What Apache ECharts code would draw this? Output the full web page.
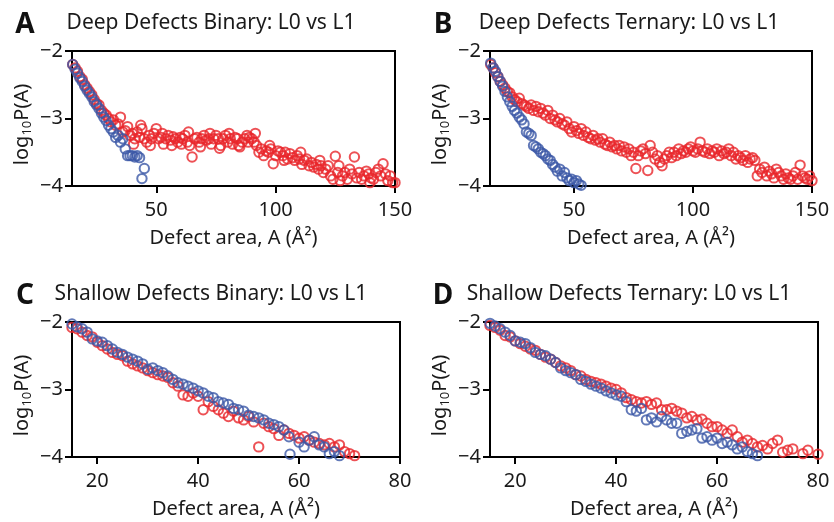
<!DOCTYPE html>
<html>
<head>
<meta charset="utf-8">
<script src="https://cdn.jsdelivr.net/npm/echarts@6.0.0/dist/echarts.min.js"></script>
<style>
  html, body { margin: 0; padding: 0; background: #fff; }
  #chart { width: 834px; height: 522px; }
</style>
</head>
<body>
<div id="chart"></div>
<script>
// panel A: deep defects, binary
var deepBinL0 = [[15,-2.2],[16,-2.27],[17,-2.33],[18,-2.4],[19,-2.45],[20,-2.52],[21,-2.58],[22,-2.63],[23,-2.68],
  [24,-2.75],[25,-2.8],[26,-2.85],[27,-2.92],[28,-2.98],[29,-3.03],[30,-3.1],[31,-3.15],[32,-3.2],[33,-3.28],
  [34,-3.25],[35,-3.35],[36,-3.3],[37,-3.45],[38,-3.55],[39,-3.55],[40,-3.55],[41,-3.57],[42,-3.55],[43,-3.58],
  [45,-3.74],[44,-3.89]];
var deepBinL1 = [[15,-2.2],[16,-2.25],[17,-2.3],[18,-2.38],[19,-2.42],[20,-2.5],[21,-2.55],[22,-2.6],[23,-2.65],
  [24,-2.72],[25,-2.78],[26,-2.8],[27,-2.88],[28,-2.92],[29,-2.95],[30,-3.0],[31,-3.05],[32,-3.02],[33,-3.1],
  [34,-3.08],[35,-2.98],[36,-3.2],[37,-3.18],[38,-3.12],[39,-3.25],[40,-3.22],[41,-3.3],[42,-3.2],[43,-3.28],
  [44,-3.15],[45,-3.3],[46,-3.35],[47,-3.25],[48,-3.3],[49,-3.22],[50,-3.15],[51,-3.3],[52,-3.28],[53,-3.38],
  [54,-3.3],[55,-3.25],[56,-3.32],[57,-3.27],[58,-3.3],[59,-3.35],[60,-3.28],[61,-3.3],[62,-3.25],[63,-3.35],
  [64,-3.4],[65,-3.57],[66,-3.3],[67,-3.28],[68,-3.35],[69,-3.3],[70,-3.25],[71,-3.32],[72,-3.3],[73,-3.38],
  [74,-3.3],[75,-3.25],[76,-3.3],[77,-3.4],[78,-3.3],[79,-3.25],[80,-3.35],[81,-3.3],[82,-3.38],[83,-3.28],
  [84,-3.3],[85,-3.42],[86,-3.35],[87,-3.3],[88,-3.25],[89,-3.28],[90,-3.3],[91,-3.35],[92,-3.4],[93,-3.5],
  [94,-3.45],[95,-3.55],[96,-3.48],[97,-3.5],[98,-3.45],[99,-3.67],[100,-3.55],[101,-3.48],[102,-3.5],[103,-3.55],
  [104,-3.5],[105,-3.6],[106,-3.52],[107,-3.58],[108,-3.62],[109,-3.55],[110,-3.6],[111,-3.68],[112,-3.62],
  [113,-3.6],[114,-3.7],[115,-3.65],[116,-3.72],[117,-3.68],[118,-3.75],[119,-3.7],[120,-3.8],[121,-3.75],
  [122,-3.7],[123,-3.85],[124,-3.9],[125,-3.56],[126,-3.8],[127,-3.92],[128,-3.85],[129,-3.8],[130,-3.9],
  [131,-3.75],[132,-3.82],[133,-3.57],[134,-3.88],[135,-3.8],[136,-3.9],[137,-3.85],[138,-3.78],[139,-3.82],
  [140,-3.88],[141,-3.9],[142,-3.8],[143,-3.75],[144,-3.85],[145,-3.67],[146,-3.82],[147,-3.92],[148,-3.85],
  [149,-3.95],[150,-3.95],
  [40.5,-3.38],[43.5,-3.1],[47.5,-3.4],[52.5,-3.22],[56.5,-3.4],[60.5,-3.38],[63.5,-3.2],[68.5,-3.42],
  [72.5,-3.22],[76.5,-3.44],[80.5,-3.22],[84.5,-3.4],[88.5,-3.35],[91.5,-3.22],[97.5,-3.4],[103.5,-3.62],
  [110.5,-3.5],[118.5,-3.62],[126.5,-3.7],[139.5,-3.95]];

// panel B: deep defects, ternary
var deepTerL0 = [[15,-2.18],[16,-2.25],[17,-2.3],[18,-2.38],[19,-2.45],[20,-2.52],[21,-2.6],[22,-2.68],[23,-2.75],
  [24,-2.82],[25,-2.88],[26,-2.92],[27,-2.98],[28,-3.02],[29,-3.08],[30,-3.2],[31,-3.22],[32,-3.25],[33,-3.4],
  [34,-3.42],[35,-3.45],[36,-3.5],[37,-3.52],[38,-3.55],[39,-3.6],[40,-3.62],[41,-3.68],[42,-3.72],[43,-3.78],
  [44,-3.75],[45,-3.85],[46,-3.8],[47,-3.88],[48,-3.92],[49,-3.9],[50,-3.95],[51,-3.92],[52,-3.97],[53,-3.99]];
var deepTerL1 = [[15,-2.2],[16,-2.25],[17,-2.32],[18,-2.38],[19,-2.45],[20,-2.5],[21,-2.55],[22,-2.6],[23,-2.62],
  [24,-2.68],[25,-2.72],[26,-2.75],[27,-2.7],[28,-2.78],[29,-2.8],[30,-2.82],[31,-2.85],[32,-2.8],[33,-2.88],
  [34,-2.82],[35,-2.9],[36,-2.85],[37,-2.92],[38,-2.95],[39,-2.88],[40,-3.0],[41,-2.95],[42,-3.02],[43,-3.05],
  [44,-3.0],[45,-3.08],[46,-3.1],[47,-3.05],[48,-3.15],[49,-3.2],[50,-3.12],[51,-3.18],[52,-3.22],[53,-3.15],
  [54,-3.25],[55,-3.2],[56,-3.28],[57,-3.3],[58,-3.25],[59,-3.32],[60,-3.3],[61,-3.35],[62,-3.3],[63,-3.38],
  [64,-3.4],[65,-3.35],[66,-3.42],[67,-3.4],[68,-3.45],[69,-3.4],[70,-3.48],[71,-3.42],[72,-3.5],[73,-3.45],
  [74,-3.55],[75,-3.5],[76,-3.74],[77,-3.55],[78,-3.48],[79,-3.45],[80,-3.52],[81,-3.77],[82,-3.4],[83,-3.5],
  [84,-3.6],[85,-3.55],[86,-3.65],[87,-3.7],[88,-3.6],[89,-3.55],[90,-3.5],[91,-3.58],[92,-3.5],[93,-3.55],
  [94,-3.45],[95,-3.52],[96,-3.48],[97,-3.5],[98,-3.45],[99,-3.42],[100,-3.48],[101,-3.5],[102,-3.45],
  [103,-3.35],[104,-3.48],[105,-3.5],[106,-3.45],[107,-3.52],[108,-3.48],[109,-3.5],[110,-3.45],[111,-3.55],
  [112,-3.48],[113,-3.52],[114,-3.5],[115,-3.45],[116,-3.55],[117,-3.5],[118,-3.6],[119,-3.55],[120,-3.58],
  [121,-3.62],[122,-3.55],[123,-3.65],[124,-3.6],[125,-3.58],[126,-3.62],[127,-3.85],[128,-3.75],[129,-3.8],
  [130,-3.72],[131,-3.85],[132,-3.78],[133,-3.82],[134,-3.88],[135,-3.75],[136,-3.8],[137,-3.85],[138,-3.9],
  [139,-3.82],[140,-3.88],[141,-3.9],[142,-3.85],[143,-3.8],[144,-3.9],[145,-3.69],[146,-3.85],[147,-3.88],
  [148,-3.9],[149,-3.85],[150,-3.92]];

// panel C: shallow defects, binary
var shalBinL0 = [[15,-2.03],[16,-2.07],[17,-2.1],[18,-2.15],[19,-2.25],[20,-2.28],[21,-2.3],[22,-2.35],[23,-2.4],
  [24,-2.45],[25,-2.48],[26,-2.52],[27,-2.55],[28,-2.58],[29,-2.62],[30,-2.7],[31,-2.68],[32,-2.72],[33,-2.75],
  [34,-2.8],[35,-2.85],[36,-2.9],[37,-2.92],[38,-2.95],[39,-2.98],[40,-3.02],[41,-3.05],[42,-3.1],[43,-3.12],
  [44,-3.18],[45,-3.2],[46,-3.22],[47,-3.28],[48,-3.3],[49,-3.32],[50,-3.38],[51,-3.4],[52,-3.42],[53,-3.45],
  [54,-3.5],[55,-3.52],[56,-3.55],[57,-3.6],[58,-3.7],[58.2,-3.96],[60,-3.78],[61,-3.85],[62,-3.75],[63,-3.7],
  [64,-3.82],[65,-3.85],[66,-3.95],[67,-3.92],[68,-3.98]];
var shalBinL1 = [[15,-2.08],[16,-2.1],[17,-2.15],[18,-2.2],[19,-2.22],[20,-2.3],[21,-2.35],[22,-2.4],[23,-2.45],
  [24,-2.48],[25,-2.5],[26,-2.58],[27,-2.62],[28,-2.65],[29,-2.68],[30,-2.72],[31,-2.75],[32,-2.78],[33,-2.8],
  [34,-2.82],[35,-2.9],[36,-2.95],[37,-3.08],[38,-3.1],[39,-3.05],[40,-3.1],[41,-3.3],[42,-3.18],[43,-3.25],
  [44,-3.3],[45,-3.35],[46,-3.4],[47,-3.32],[48,-3.42],[49,-3.45],[50,-3.4],[51,-3.48],[52,-3.85],[53,-3.5],
  [54,-3.55],[55,-3.58],[56,-3.68],[57,-3.6],[58,-3.65],[59,-3.68],[60,-3.72],[61,-3.7],[62,-3.75],[63,-3.78],
  [64,-3.8],[65,-3.82],[66,-3.8],[67,-3.85],[68,-3.82],[69,-3.92],[70,-3.95],[71,-3.98]];

// panel D: shallow defects, ternary
var shalTerL0 = [[15,-2.02],[16,-2.06],[17,-2.1],[18,-2.15],[19,-2.2],[20,-2.28],[21,-2.3],[22,-2.32],[23,-2.38],
  [24,-2.45],[25,-2.48],[26,-2.5],[27,-2.55],[28,-2.6],[29,-2.68],[30,-2.72],[31,-2.75],[32,-2.78],[33,-2.85],
  [34,-2.88],[35,-2.92],[36,-2.95],[37,-2.98],[38,-3.02],[39,-3.05],[40,-3.08],[41,-3.1],[42,-3.18],[43,-3.3],
  [44,-3.32],[45,-3.28],[46,-3.45],[47,-3.42],[48,-3.48],[49,-3.4],[50,-3.45],[51,-3.5],[52,-3.5],[53,-3.65],
  [54,-3.62],[55,-3.6],[56,-3.58],[57,-3.72],[58,-3.7],[59,-3.75],[60,-3.72],[61,-3.8],[62,-3.78],[63,-3.82],
  [64,-3.88],[65,-3.85],[66,-3.92],[67,-3.95],[68,-3.98]];
var shalTerL1 = [[15,-2.05],[16,-2.08],[17,-2.12],[18,-2.2],[19,-2.22],[20,-2.28],[21,-2.32],[22,-2.36],[23,-2.4],
  [24,-2.42],[25,-2.48],[26,-2.52],[27,-2.55],[28,-2.6],[29,-2.65],[30,-2.68],[31,-2.72],[32,-2.78],[33,-2.8],
  [34,-2.85],[35,-2.88],[36,-2.9],[37,-2.92],[38,-2.95],[39,-2.98],[40,-3.0],[41,-3.05],[42,-3.12],[43,-3.15],
  [44,-3.18],[45,-3.2],[46,-3.18],[47,-3.22],[48,-3.2],[49,-3.3],[50,-3.3],[51,-3.28],[52,-3.32],[53,-3.35],
  [54,-3.42],[55,-3.4],[56,-3.45],[57,-3.44],[58,-3.5],[59,-3.55],[60,-3.55],[61,-3.6],[62,-3.65],[63,-3.6],
  [64,-3.7],[65,-3.78],[66,-3.75],[67,-3.8],[68,-3.85],[69,-3.83],[70,-3.88],[71,-3.8],[72,-3.75],[73,-3.93],
  [74,-3.9],[75,-3.88],[77,-3.95],[78,-3.9],[80,-3.96]];

var deepTicks = [50, 100, 150];
var shalTicks = [20, 40, 60, 80];
var yTicks = [-4, -3, -2];
var panelTitles = ['Deep Defects Binary: L0 vs L1', 'Deep Defects Ternary: L0 vs L1',
  'Shallow Defects Binary: L0 vs L1', 'Shallow Defects Ternary: L0 vs L1'];
var panelLetters = ['A', 'B', 'C', 'D'];

var RED = '#e8262b';
var BLUE = '#3b57a6';
var FONT = 'Noto Sans';
var TXT = '#1a1a1a';

var panels = [
  { grid: { left: 72, top: 51, width: 323, height: 135 }, min: 14.7, max: 150, ticks: deepTicks, l0: deepBinL0, l1: deepBinL1 },
  { grid: { left: 490, top: 51, width: 322, height: 135 }, min: 14.7, max: 150, ticks: deepTicks, l0: deepTerL0, l1: deepTerL1 },
  { grid: { left: 72, top: 322, width: 328, height: 135 }, min: 15, max: 80, ticks: shalTicks, l0: shalBinL0, l1: shalBinL1 },
  { grid: { left: 490, top: 322, width: 328, height: 135 }, min: 15, max: 80, ticks: shalTicks, l0: shalTerL0, l1: shalTerL1 }
];

var axisLine = { show: true, onZero: false, lineStyle: { color: '#000', width: 2 } };
var axisTick = { show: true, length: 7, lineStyle: { color: '#000', width: 2 } };

var grids = [], xAxes = [], yAxes = [], series = [], titles = [];
panels.forEach(function (p, i) {
  grids.push(Object.assign({ show: true, borderColor: '#000', borderWidth: 2, backgroundColor: 'transparent' }, p.grid));
  xAxes.push({
    type: 'value', gridIndex: i, min: p.min, max: p.max,
    axisLine: axisLine,
    axisTick: Object.assign({ customValues: p.ticks }, axisTick),
    axisLabel: { customValues: p.ticks, fontFamily: FONT, fontSize: 20, color: TXT, margin: 14 },
    splitLine: { show: false },
    name: 'Defect area, A (Å²)', nameLocation: 'middle', nameGap: 42,
    nameTextStyle: { fontFamily: FONT, fontSize: 20, color: TXT }
  });
  yAxes.push({
    type: 'value', gridIndex: i, min: -4, max: -2, interval: 1,
    axisLine: axisLine,
    axisTick: Object.assign({ customValues: yTicks }, axisTick),
    axisLabel: {
      fontFamily: FONT, fontSize: 20, color: TXT, margin: 9,
      formatter: function (v) { return v < 0 ? '\u2212' + Math.abs(v) : String(v); }
    },
    splitLine: { show: false },
    name: '{a|log}{b|10}{a|P(A)}', nameLocation: 'middle', nameGap: 38, nameRotate: 90,
    nameTextStyle: {
      padding: [0, 12, 0, 0],
      rich: {
        a: { fontFamily: FONT, fontSize: 20, color: TXT, lineHeight: 24 },
        b: { fontFamily: FONT, fontSize: 13, color: TXT, verticalAlign: 'bottom', lineHeight: 24 }
      }
    }
  });
  var sym = { type: 'scatter', xAxisIndex: i, yAxisIndex: i, symbol: 'circle', symbolSize: 9.4, silent: true };
  series.push(Object.assign({ name: 'L1', data: p.l1, itemStyle: { color: 'rgba(0,0,0,0)', borderColor: RED, borderWidth: 2 } }, sym));
  series.push(Object.assign({ name: 'L0', data: p.l0, itemStyle: { color: 'rgba(0,0,0,0)', borderColor: BLUE, borderWidth: 2 } }, sym));
  titles.push({
    text: panelLetters[i], left: p.grid.left - 47, top: p.grid.top - 26, textAlign: 'center', textVerticalAlign: 'middle',
    padding: 0,
    textStyle: { fontFamily: FONT, fontSize: 28, fontWeight: 'bold', color: '#111' }
  });
  titles.push({
    text: panelTitles[i], left: p.grid.left + 139, top: p.grid.top - 28, textAlign: 'center', textVerticalAlign: 'middle',
    padding: 0,
    textStyle: { fontFamily: FONT, fontSize: 21, fontWeight: 'normal', color: TXT }
  });
});

var chart = echarts.init(document.getElementById('chart'));
chart.setOption({
  animation: false,
  backgroundColor: '#fff',
  title: titles,
  grid: grids,
  xAxis: xAxes,
  yAxis: yAxes,
  series: series
});
</script>
</body>
</html>
